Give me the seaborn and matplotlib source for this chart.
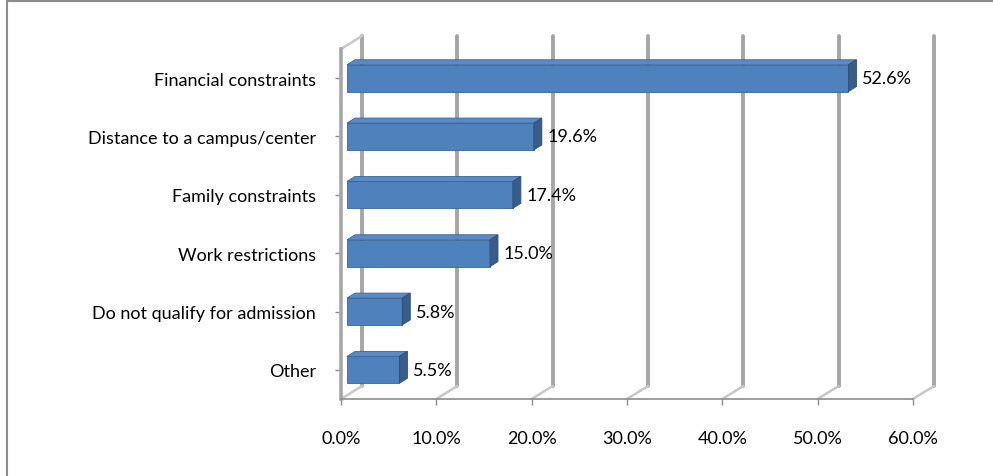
import matplotlib
matplotlib.use("Agg")
import matplotlib.pyplot as plt
import matplotlib.transforms as mtransforms
from matplotlib.lines import Line2D
from matplotlib.patches import Polygon
import seaborn as sns
import pandas as pd

# data
categories = [
    "Financial constraints",
    "Distance to a campus/center",
    "Family constraints",
    "Work restrictions",
    "Do not qualify for admission",
    "Other",
]
shares = [52.6, 19.6, 17.4, 15.0, 5.8, 5.5]
x_ticks = [0, 10, 20, 30, 40, 50, 60]
x_tick_labels = ["0.0%", "10.0%", "20.0%", "30.0%", "40.0%", "50.0%", "60.0%"]

BAR = "#4F81BD"
BAR_SIDE = "#385D8A"
BAR_TOP = "#5A8AC6"
GRID = "#A6A6A6"
FS = 13

sns.set_style("white")
plt.rcParams["font.family"] = ["Lato", "DejaVu Sans"]

df = pd.DataFrame({"reason": categories, "share": shares})

fig = plt.figure(figsize=(9.93, 4.77), dpi=100)
ax = fig.add_axes([0.3434, 0.1614, 0.576, 0.7338])

sns.barplot(data=df, x="share", y="reason", orient="h", color=BAR,
            width=0.46, saturation=1, edgecolor="#3A6596", linewidth=0.6,
            ax=ax, zorder=3)

ax.set_xlim(0, 60)
ax.set_xticks(x_ticks)
ax.set_xticklabels(x_tick_labels)
ax.set_xlabel("")
ax.set_ylabel("")

for side in ["top", "right"]:
    ax.spines[side].set_visible(False)
ax.spines["left"].set_color(GRID)
ax.spines["left"].set_linewidth(2.6)
ax.spines["bottom"].set_color("#8C8C8C")
ax.spines["bottom"].set_linewidth(1.2)
ax.tick_params(axis="y", length=4, width=1, color="#8C8C8C", pad=14,
               labelsize=FS, labelcolor="black", left=True)
ax.tick_params(axis="x", length=4, width=1, color="#8C8C8C", pad=18,
               labelsize=FS, labelcolor="black", bottom=True)

# back wall gridlines, shifted for the 3D look
depth = mtransforms.ScaledTranslation(0.21, 0.13, fig.dpi_scale_trans)
blend = mtransforms.blended_transform_factory(ax.transData, ax.transAxes)
back = blend + depth
for t in x_ticks:
    ax.add_line(Line2D([t, t], [0, 1], transform=back, color=GRID,
                       lw=2.8, zorder=1, clip_on=False))
    # floor diagonal from the front axis to the back wall
    p0 = blend.transform((t, 0))
    p1 = back.transform((t, 0))
    ax.add_line(Line2D([p0[0], p1[0]], [p0[1], p1[1]], transform=None,
                       color="#C8C8C8", lw=1.8, zorder=1, clip_on=False))
# top of the left wall
p0 = ax.transAxes.transform((0, 1))
p1 = back.transform((0, 1))
ax.add_line(Line2D([p0[0], p1[0]], [p0[1], p1[1]], transform=None,
                   color="#C8C8C8", lw=1.8, zorder=1, clip_on=False))

# 3D faces on each bar; bars sit a little inside the depth
shift = mtransforms.ScaledTranslation(0.06, 0.0, fig.dpi_scale_trans)
dx, dy = 8, 5
for p in list(ax.patches):
    p.set_transform(ax.transData + shift)
    x0, x1 = p.get_x(), p.get_x() + p.get_width()
    y0, y1 = p.get_y(), p.get_y() + p.get_height()
    (ax0, ay0), (ax1, ay1) = (ax.transData + shift).transform([(x0, y0), (x1, y1)])
    top_y = max(ay0, ay1)
    bot_y = min(ay0, ay1)
    top = [(ax0, top_y), (ax1, top_y), (ax1 + dx, top_y + dy), (ax0 + dx, top_y + dy)]
    side = [(ax1, top_y), (ax1 + dx, top_y + dy), (ax1 + dx, bot_y + dy), (ax1, bot_y)]
    ax.add_patch(Polygon(top, closed=True, transform=None, facecolor=BAR_TOP,
                         edgecolor="#3A6596", lw=0.6, zorder=4))
    ax.add_patch(Polygon(side, closed=True, transform=None, facecolor=BAR_SIDE,
                         edgecolor="#2E4E75", lw=0.6, zorder=4))

# value labels
for i, v in enumerate(shares):
    ax.annotate(f"{v:.1f}%", xy=(v, i), xytext=(20, 0),
                textcoords="offset pixels", va="center", ha="left",
                fontsize=FS, color="black", zorder=5)

# chart area border (top and left only visible)
fig.add_artist(Line2D([0.007, 1.0], [0.996, 0.996], color="#8C8C8C", lw=1.5))
fig.add_artist(Line2D([0.007, 0.007], [0.0, 0.996], color="#8C8C8C", lw=1.5))

fig.savefig("out.png", dpi=100)
